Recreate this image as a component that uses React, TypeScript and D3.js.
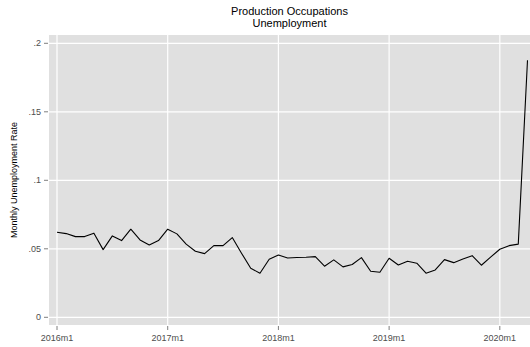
import React from "react";
import * as d3 from "d3";

const rates: number[] = [
  0.0621, 0.0611, 0.0589, 0.0589, 0.0614, 0.0494, 0.0594, 0.056, 0.0643, 0.0565, 0.0528, 0.056,
  0.0643, 0.0609, 0.0534, 0.0482, 0.0465, 0.0523, 0.0523, 0.0582, 0.0468, 0.0358, 0.0322, 0.0424,
  0.0455, 0.0433, 0.0436, 0.0438, 0.0443, 0.0373, 0.0419, 0.0368, 0.0385, 0.0436, 0.0336, 0.0329,
  0.0431, 0.0382, 0.0409, 0.0395, 0.0322, 0.0346, 0.0421, 0.0399, 0.0426, 0.045, 0.038, 0.0439,
  0.0497, 0.0523, 0.0534, 0.1876,
];
const xTickMonths = [0, 12, 24, 36, 48];
const xTickLabels = ["2016m1", "2017m1", "2018m1", "2019m1", "2020m1"];
const yTicks = [0, 0.05, 0.1, 0.15, 0.2];
const yTickLabels = ["0", ".05", ".1", ".15", ".2"];
const titleLines = ["Production Occupations", "Unemployment"];
const yTitle = "Monthly Unemployment Rate";

export default function App() {
  const W = 530, H = 347;
  const panel = { left: 49, right: 530, top: 35, bottom: 325 };
  const x = d3.scaleLinear().domain([0, 51]).range([57, 527.5]);
  const y = d3.scaleLinear().domain([0, 0.2]).range([317.3, 43.3]);
  const line = d3
    .line<number>()
    .x((_, i) => x(i))
    .y((d) => y(d));
  const font = "Liberation Sans, Arial, Helvetica, sans-serif";
  const labelColor = "#4d4d4d";
  return (
    <svg
      width={W}
      height={H}
      style={{ position: "absolute", left: 0, top: 0, background: "#fff" }}
      fontFamily={font}
    >
      <rect
        x={panel.left}
        y={panel.top}
        width={panel.right - panel.left}
        height={panel.bottom - panel.top}
        fill="#e0e0e0"
      />
      {yTicks.map((t) => (
        <line
          key={"gy" + t}
          x1={panel.left}
          x2={panel.right}
          y1={y(t)}
          y2={y(t)}
          stroke="#fff"
          strokeWidth={1.2}
        />
      ))}
      {xTickMonths.map((m) => (
        <line
          key={"gx" + m}
          x1={x(m)}
          x2={x(m)}
          y1={panel.top}
          y2={panel.bottom}
          stroke="#fff"
          strokeWidth={1.2}
        />
      ))}
      <path d={line(rates) || ""} fill="none" stroke="#000" strokeWidth={1.1} strokeLinejoin="round" />
      {yTicks.map((t, i) => (
        <g key={"ty" + t}>
          <line x1={44} x2={48} y1={y(t)} y2={y(t)} stroke="#7f7f7f" strokeWidth={1} />
          <text
            x={41}
            y={y(t)}
            dy="0.35em"
            textAnchor="end"
            fontSize={9}
            fill={labelColor}
          >
            {yTickLabels[i]}
          </text>
        </g>
      ))}
      {xTickMonths.map((m, i) => (
        <g key={"tx" + m}>
          <line x1={x(m)} x2={x(m)} y1={326} y2={330} stroke="#7f7f7f" strokeWidth={1} />
          <text x={x(m)} y={341} textAnchor="middle" fontSize={9} fill={labelColor}>
            {xTickLabels[i]}
          </text>
        </g>
      ))}
      <text
        transform={`translate(17,${(panel.top + panel.bottom) / 2}) rotate(-90)`}
        textAnchor="middle"
        fontSize={9}
        fill="#000"
      >
        {yTitle}
      </text>
      {titleLines.map((s, i) => (
        <text
          key={s}
          x={(panel.left + panel.right) / 2}
          y={15 + i * 11.5}
          textAnchor="middle"
          fontSize={11}
          fill="#000"
        >
          {s}
        </text>
      ))}
    </svg>
  );
}
